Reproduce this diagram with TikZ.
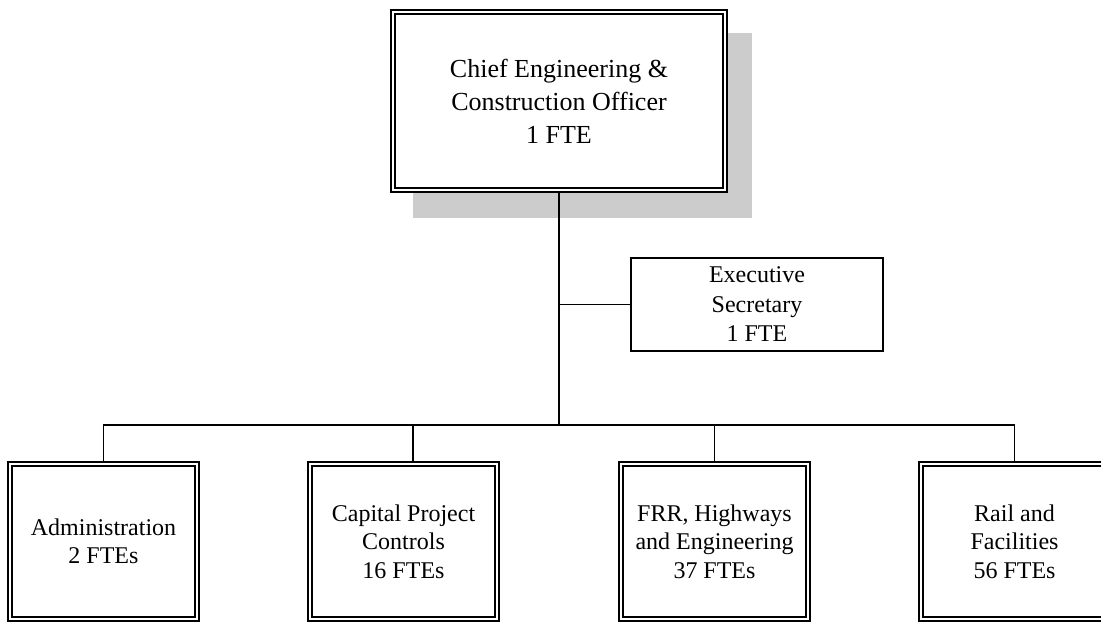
\documentclass[tikz,border=0pt]{standalone}
\usepackage{fontspec}
\setmainfont{Liberation Serif}
\usetikzlibrary{backgrounds}
\definecolor{shadowgray}{RGB}{204,204,204}
\begin{document}
\begin{tikzpicture}[x=1pt,y=-1pt,
  conn/.style={line width=1.8pt},
  dblbox/.style={draw, double, line width=1.7pt, double distance=2.2pt,
    fill=white, align=center, inner sep=0pt},
  plainbox/.style={draw, line width=1.8pt, fill=white, align=center, inner sep=0pt},
  bigtext/.style={font=\fontsize{26}{33}\selectfont},
  smalltext/.style={font=\fontsize{24}{28.5}\selectfont}]
\useasboundingbox (0,0) rectangle (1101,622);
\clip (0,0) rectangle (1101,622);

% head of the department
\node[dblbox, bigtext, minimum width=332.4pt, minimum height=178.4pt] (chief) at (559,101)
  {Chief Engineering \&\\Construction Officer\\1 FTE};

% staff position beside the main line
\node[plainbox, minimum width=252.2pt, minimum height=93.2pt,
  font=\fontsize{24}{29.5}\selectfont] (sec) at (757,304.5)
  {Executive\\Secretary\\ 1 FTE};

% divisions
\node[dblbox, smalltext, minimum width=187.4pt, minimum height=155.2pt] (adm) at (103.5,541.5)
  {Administration\\2 FTEs};
\node[dblbox, smalltext, minimum width=187.4pt, minimum height=155.2pt] (cap) at (403.5,541.5)
  {Capital Project\\Controls\\16 FTEs};
\node[dblbox, smalltext, minimum width=187.4pt, minimum height=155.2pt] (frr) at (714.5,541.5)
  {FRR, Highways\\and Engineering\\37 FTEs};
\node[dblbox, smalltext, minimum width=187.4pt, minimum height=155.2pt] (rail) at (1014.5,541.5)
  {Rail and\\Facilities\\56 FTEs};

\begin{scope}[on background layer]
  % drop shadow of the head box
  \fill[shadowgray] ([shift={(20.9,21.9)}]chief.north west) rectangle ([shift={(26.1,27.1)}]chief.south east);
  % reporting lines
  \coordinate (jn) at (559,425);
  \coordinate (secj) at (559,304.5);
  \coordinate (capdrop) at (413,425);
  \draw[conn] (chief.south) -- (jn);
  \draw[conn] (secj) -- (sec.west);
  \draw[conn] (adm.north) -- (adm.north |- jn) -- (rail.north |- jn) -- (rail.north);
  \draw[conn] (capdrop) -- (capdrop |- cap.north);
  \draw[conn] (frr.north |- jn) -- (frr.north);
\end{scope}
\end{tikzpicture}
\end{document}
